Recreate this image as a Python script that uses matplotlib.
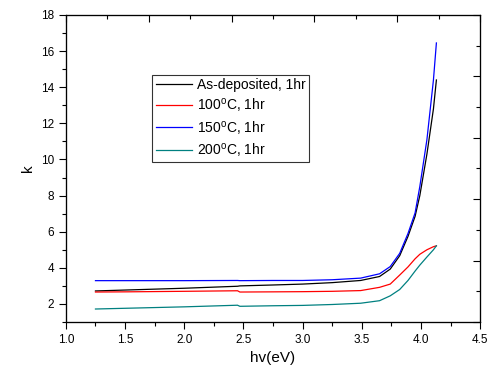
import matplotlib

matplotlib.use("Agg")
import matplotlib.pyplot as plt
from matplotlib.ticker import MultipleLocator

plt.rcParams["font.family"] = ["Liberation Sans", "DejaVu Sans"]
plt.rcParams["mathtext.default"] = "regular"

# ── Data ──────────────────────────────────────────────────
hv = [1.25, 1.5, 2.0, 2.45, 2.47, 2.75, 3.0, 3.25, 3.49, 3.65, 3.74,
      3.82, 3.89, 3.95, 3.99, 4.05, 4.105, 4.13]

k_asdep = [2.72, 2.77, 2.87, 2.98, 3.0, 3.05, 3.1, 3.18, 3.3, 3.52, 3.93,
           4.67, 5.74, 6.85, 8.0, 10.3, 12.8, 14.4]
k_100 = [2.66, 2.67, 2.70, 2.73, 2.66, 2.67, 2.68, 2.70, 2.74, 2.92, 3.1,
         3.6, 4.05, 4.5, 4.75, 5.0, 5.17, 5.22]
k_150 = [3.29, 3.29, 3.29, 3.30, 3.29, 3.30, 3.30, 3.34, 3.43, 3.67, 4.07,
         4.8, 5.9, 7.04, 8.5, 11.1, 14.4, 16.45]
k_200 = [1.72, 1.76, 1.84, 1.93, 1.87, 1.90, 1.92, 1.97, 2.04, 2.18, 2.45,
         2.8, 3.3, 3.82, 4.15, 4.6, 5.0, 5.22]

labels = ["As-deposited, 1hr", "100$^{o}$C, 1hr", "150$^{o}$C, 1hr",
          "200$^{o}$C, 1hr"]
colors = ["#000000", "#ff0000", "#0000ff", "#008080"]

fig = plt.figure(figsize=(4.88, 3.74), dpi=100)
ax = fig.add_axes([0.135, 0.139, 0.849, 0.821])

for k, lab, c in zip([k_asdep, k_100, k_150, k_200], labels, colors):
    ax.plot(hv, k, color=c, linewidth=0.9, label=lab)

ax.set_xlim(1.0, 4.5)
ax.set_ylim(1, 18)
ax.xaxis.set_major_locator(MultipleLocator(0.5))
ax.xaxis.set_minor_locator(MultipleLocator(0.25))
ax.set_yticks([2, 4, 6, 8, 10, 12, 14, 16, 18])
ax.yaxis.set_minor_locator(MultipleLocator(1))
ax.tick_params(which="both", direction="out", labelsize=8.5,
               top=False, right=False)
ax.tick_params(which="major", length=5, width=0.8)
ax.tick_params(which="minor", length=3, width=0.8)
ax.set_xlabel("hv(eV)", fontsize=11)
ax.set_ylabel("k", fontsize=11)

# Origin-style mirrored axes with their own (unlabelled) scale
tx = ax.twiny()
tx.set_xlim(0, 5)
tx.xaxis.set_major_locator(MultipleLocator(1))
tx.xaxis.set_minor_locator(MultipleLocator(0.5))
tx.tick_params(which="both", direction="in", labeltop=False, width=0.8)
tx.tick_params(which="major", length=5)
tx.tick_params(which="minor", length=3)

ty = ax.twinx()
ty.set_ylim(0, 5)
ty.yaxis.set_major_locator(MultipleLocator(1))
ty.yaxis.set_minor_locator(MultipleLocator(0.5))
ty.tick_params(which="both", direction="in", labelright=False, width=0.8)
ty.tick_params(which="major", length=5)
ty.tick_params(which="minor", length=3)

leg = ax.legend(loc="upper left", bbox_to_anchor=(0.208, 0.805),
                borderaxespad=0, fontsize=10, frameon=True, fancybox=False,
                handlelength=2.6, labelspacing=0.3, borderpad=0.25,
                handletextpad=0.4)
leg.get_frame().set_edgecolor("black")
leg.get_frame().set_linewidth(0.8)

fig.savefig("out.png", dpi=100)
